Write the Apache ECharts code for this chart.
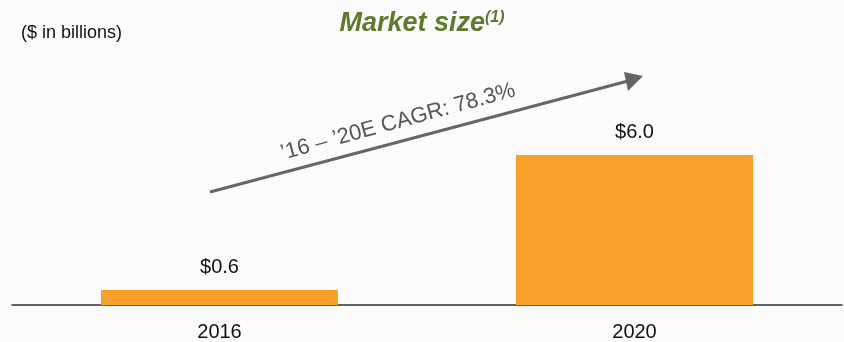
<!DOCTYPE html>
<html>
<head>
<meta charset="utf-8">
<title>Market size</title>
<script src="https://cdn.jsdelivr.net/npm/echarts@6/dist/echarts.min.js"></script>
<style>
  html, body { margin: 0; padding: 0; background: #fbfbfb; }
  #chart { width: 844px; height: 342px; }
</style>
</head>
<body>
<div id="chart"></div>
<script>
var years = ['2016', '2020'];
var marketSize = [0.6, 6.0];
var cagrText = '\u201916 \u2013 \u201920E CAGR: 78.3%';

var chart = echarts.init(document.getElementById('chart'));
var option = {
  backgroundColor: '#fbfbfb',
  animation: false,
  title: {
    text: '{t|Market size}{s|(1)}',
    left: 'center',
    top: 5,
    textStyle: {
      rich: {
        t: { fontFamily: 'Liberation Sans', fontSize: 27, fontWeight: 'bold', fontStyle: 'italic', color: '#5e7b2b' },
        s: { fontFamily: 'Liberation Sans', fontSize: 16, fontWeight: 'bold', fontStyle: 'italic', color: '#5e7b2b', verticalAlign: 'top', padding: [0, 0, 12, 0] }
      }
    }
  },
  graphic: [
    {
      type: 'text', left: 21, top: 24,
      style: { text: '($ in billions)', font: '18px "Liberation Sans"', fill: '#111' }
    },
    {
      type: 'line',
      shape: { x1: 210, y1: 192, x2: 628, y2: 81 },
      style: { stroke: '#666', lineWidth: 3 }
    },
    {
      type: 'polygon',
      shape: { points: [[643, 76], [624, 72], [628, 91]] },
      style: { fill: '#666' }
    },
    {
      type: 'text', x: 398, y: 122, rotation: 15.3 * Math.PI / 180,
      style: { text: cagrText, font: '22px "Liberation Sans"', fill: '#555', align: 'center', verticalAlign: 'middle' }
    }
  ],
  grid: { left: 12, right: 2, top: 105, bottom: 37 },
  xAxis: {
    type: 'category',
    data: years,
    axisLine: { lineStyle: { color: '#333', width: 1.5 } },
    axisTick: { show: false },
    axisLabel: { margin: 17, fontFamily: 'Liberation Sans', fontSize: 20, color: '#111' }
  },
  yAxis: {
    type: 'value',
    min: 0,
    max: 8,
    show: false
  },
  series: [{
    type: 'bar',
    data: marketSize,
    barWidth: 237,
    itemStyle: { color: '#f8a12a' },
    label: {
      show: true,
      position: 'top',
      distance: 13,
      fontFamily: 'Liberation Sans',
      fontSize: 20,
      color: '#111',
      formatter: function (p) { return '$' + p.value.toFixed(1); }
    }
  }]
};
chart.setOption(option);
</script>
</body>
</html>
